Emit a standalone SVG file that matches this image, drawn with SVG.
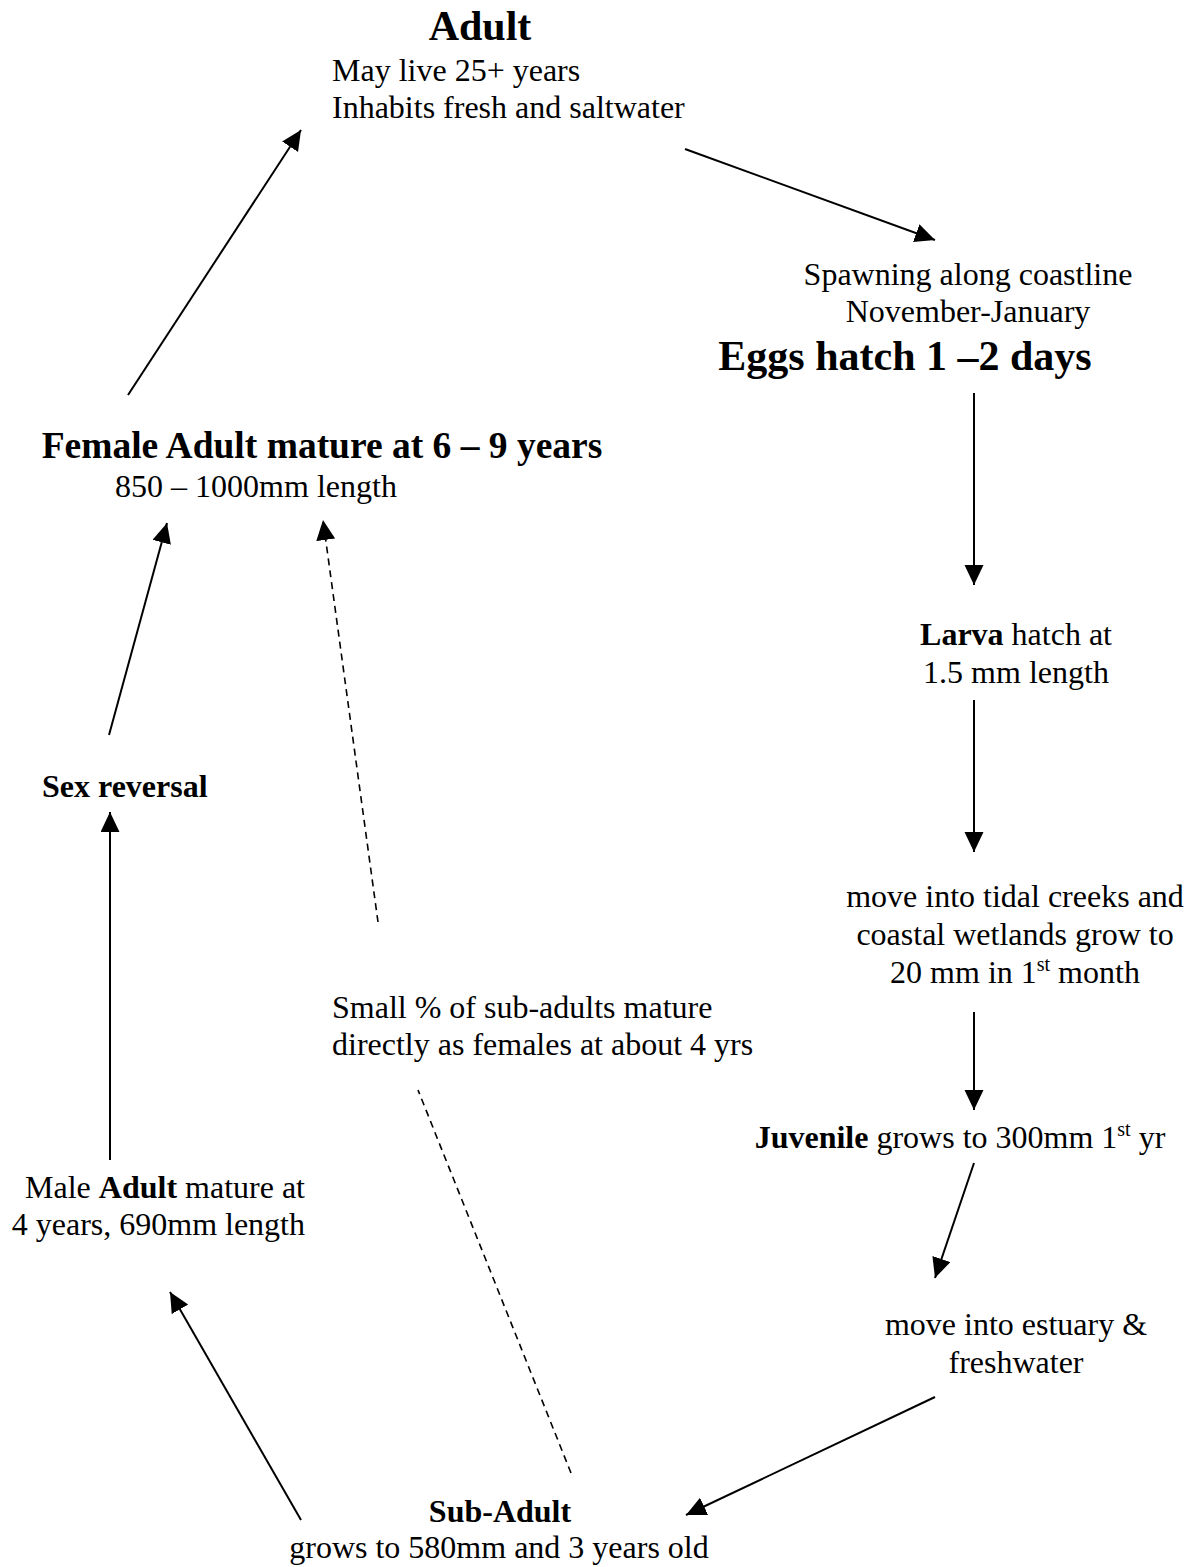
<svg xmlns="http://www.w3.org/2000/svg" width="1195" height="1567" viewBox="0 0 1195 1567">
<defs>
<marker id="ah" markerUnits="userSpaceOnUse" markerWidth="22" markerHeight="20" refX="20" refY="9.5" orient="auto">
<path d="M0,0 L20,9.5 L0,19 Z" fill="#000"/>
</marker>
<style>
text{font-family:"Liberation Serif","Times New Roman",serif;fill:#000;}
.r{font-size:32px;}
.b{font-weight:bold;}
.h{font-size:42px;font-weight:bold;}
.c{text-anchor:middle;}
.ln{stroke:#000;stroke-width:2;fill:none;}
.a{marker-end:url(#ah);}
.d{stroke-dasharray:7,5;stroke-width:1.6;}
</style>
</defs>
<rect width="1195" height="1567" fill="#fff"/>
<g id="connectors">
<line class="ln a" x1="685" y1="149" x2="935" y2="240"/>
<line class="ln a" x1="974" y1="393" x2="974" y2="585"/>
<line class="ln a" x1="974" y1="700" x2="974" y2="852"/>
<line class="ln a" x1="974" y1="1012" x2="974" y2="1110"/>
<line class="ln a" x1="974" y1="1163" x2="935" y2="1278"/>
<line class="ln a" x1="935" y1="1397" x2="686" y2="1515"/>
<line class="ln a" x1="301" y1="1520" x2="170" y2="1292"/>
<line class="ln a" x1="110" y1="1160" x2="110" y2="812"/>
<line class="ln a" x1="109" y1="735" x2="167" y2="523"/>
<line class="ln a" x1="128" y1="395" x2="301" y2="130"/>
<line class="ln d" x1="571" y1="1473" x2="418" y2="1090"/>
<line class="ln d a" x1="378" y1="922" x2="323" y2="520"/>
</g>
<g id="adult">
<text class="h c" x="480" y="40">Adult</text>
<text class="r" x="332" y="81">May live 25+ years</text>
<text class="r" x="332" y="118">Inhabits fresh and saltwater</text>
</g>
<g id="spawning">
<text class="r c" x="968" y="285">Spawning along coastline</text>
<text class="r c" x="968" y="322">November-January</text>
<text class="h c" x="905" y="370">Eggs hatch 1 –2 days</text>
</g>
<g id="larva">
<text class="r c" x="1016" y="645"><tspan class="b">Larva</tspan> hatch at</text>
<text class="r c" x="1016" y="683">1.5 mm length</text>
</g>
<g id="tidal">
<text class="r c" x="1015" y="907">move into tidal creeks and</text>
<text class="r c" x="1015" y="945">coastal wetlands grow to</text>
<text class="r c" x="1015" y="983">20 mm in 1<tspan font-size="20" dy="-12">st</tspan><tspan dy="12"> month</tspan></text>
</g>
<g id="juvenile">
<text class="r c" x="960" y="1148"><tspan class="b">Juvenile</tspan> grows to 300mm 1<tspan font-size="20" dy="-12">st</tspan><tspan dy="12"> yr</tspan></text>
</g>
<g id="estuary">
<text class="r c" x="1016" y="1335">move into estuary &amp;</text>
<text class="r c" x="1016" y="1373">freshwater</text>
</g>
<g id="subadult">
<text class="r b c" x="500" y="1522">Sub-Adult</text>
<text class="r c" x="499" y="1558">grows to 580mm and 3 years old</text>
</g>
<g id="male">
<text class="r" x="305" y="1198" text-anchor="end">Male <tspan class="b">Adult</tspan> mature at</text>
<text class="r" x="305" y="1235" text-anchor="end">4 years, 690mm length</text>
</g>
<g id="sexreversal">
<text class="r b" x="42" y="797">Sex reversal</text>
</g>
<g id="female">
<text class="b" font-size="37.5" x="322" y="458" text-anchor="middle">Female Adult mature at 6 – 9 years</text>
<text class="r c" x="256" y="497">850 – 1000mm length</text>
</g>
<g id="small">
<text class="r" x="332" y="1018">Small % of sub-adults mature</text>
<text class="r" x="332" y="1055">directly as females at about 4 yrs</text>
</g>
</svg>
